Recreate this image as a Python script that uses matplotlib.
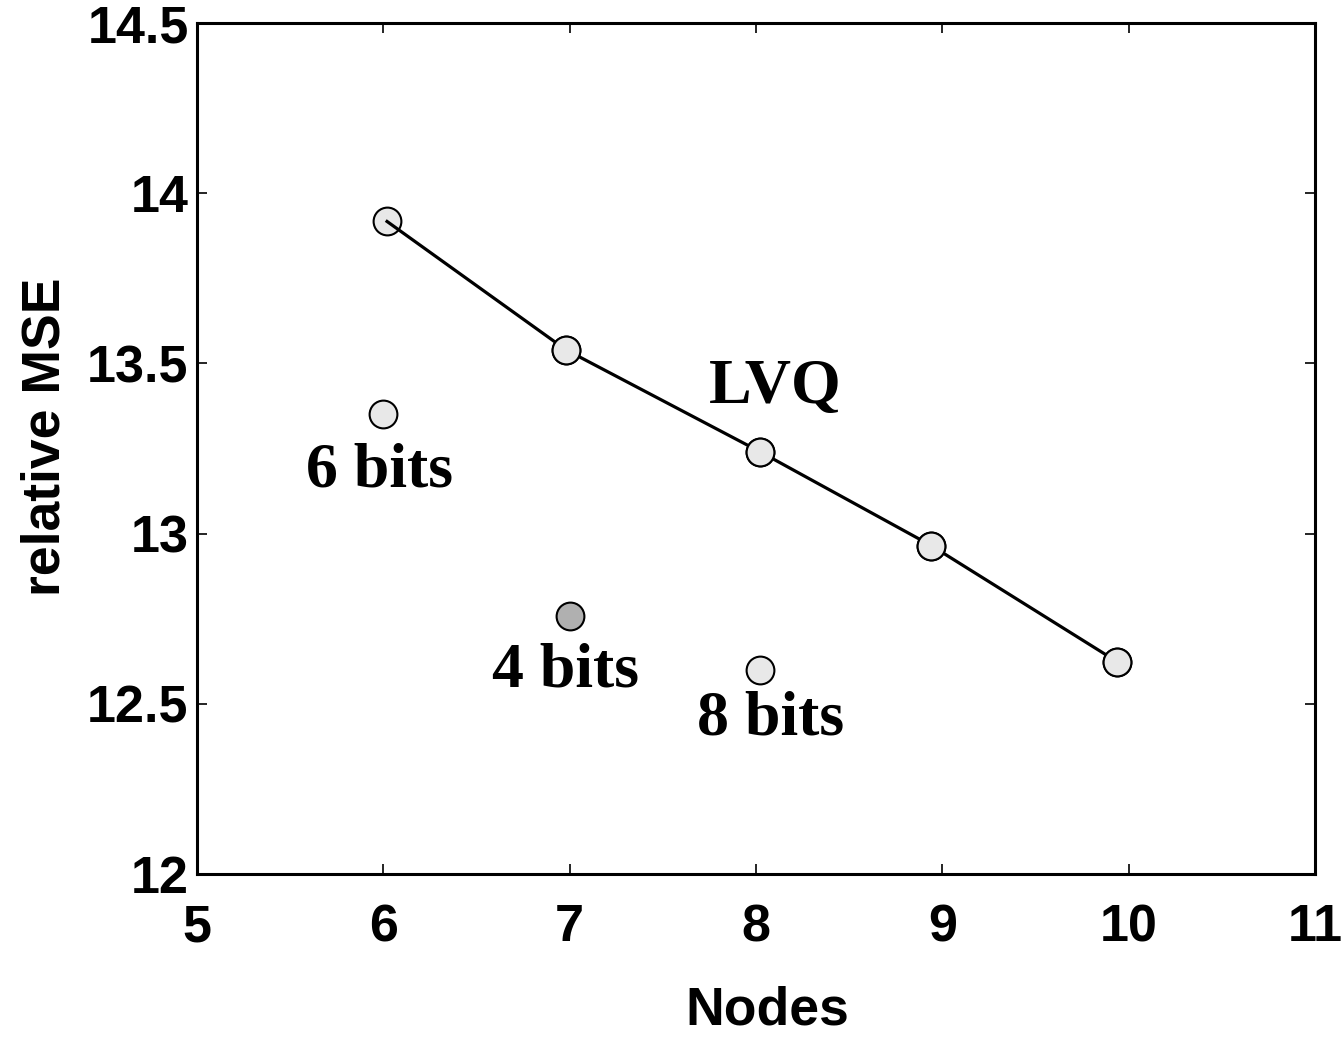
import matplotlib
matplotlib.use("Agg")
import matplotlib.pyplot as plt

# LVQ curve
lvq_nodes = [6.02, 6.98, 8.02, 8.94, 9.94]
lvq_mse = [13.917, 13.54, 13.241, 12.965, 12.623]

# quantised single points
bit_nodes = [6.0, 7.0, 8.02]
bit_mse = [13.352, 12.759, 12.598]
bit_fill = ["#e8e8e8", "#b0b0b0", "#e8e8e8"]

# text labels (x, y of baseline centre)
labels = ["6 bits", "4 bits", "8 bits", "LVQ"]
label_x = [5.98, 6.98, 8.08, 8.105]
label_y = [13.138, 12.551, 12.410, 13.383]

xticks = [5, 6, 7, 8, 9, 10, 11]
yticks = [12, 12.5, 13, 13.5, 14, 14.5]
ytick_labels = ["12", "12.5", "13", "13.5", "14", "14.5"]

fig = plt.figure(figsize=(13.43, 10.37), dpi=100)
ax = fig.add_axes([0.1467, 0.1572, 0.8324, 0.8206])

ax.plot(lvq_nodes, lvq_mse, linestyle="none", marker="o", markersize=20,
        markerfacecolor="#e8e8e8", markeredgecolor="black",
        markeredgewidth=1.5, zorder=2)
ax.plot(lvq_nodes, lvq_mse, color="black", linewidth=2.3, zorder=2.5)
# redraw later markers on top of the line (first one stays under it)
ax.plot(lvq_nodes[1:], lvq_mse[1:], linestyle="none", marker="o",
        markersize=20, markerfacecolor="#e8e8e8", markeredgecolor="black",
        markeredgewidth=1.5, zorder=3)

for xv, yv, fc in zip(bit_nodes, bit_mse, bit_fill):
    ax.plot([xv], [yv], linestyle="none", marker="o", markersize=20,
            markerfacecolor=fc, markeredgecolor="black",
            markeredgewidth=1.5, zorder=3)

for txt, xv, yv in zip(labels, label_x, label_y):
    ax.text(xv, yv, txt, ha="center", va="baseline",
            family="Liberation Serif", fontweight="bold", fontsize=46)

ax.set_xlim(5, 11)
ax.set_ylim(12, 14.5)
ax.set_xticks(xticks)
ax.set_yticks(yticks)
ax.set_yticklabels(ytick_labels)

for lab in ax.get_xticklabels() + ax.get_yticklabels():
    lab.set_family("Liberation Sans")
    lab.set_fontweight("bold")
    lab.set_fontsize(37.5)

ax.tick_params(direction="in", length=7, width=1.2, top=True, right=True)
ax.tick_params(axis="x", pad=21)
ax.tick_params(axis="y", pad=6)
for sp in ax.spines.values():
    sp.set_linewidth(2.2)

ax.set_xlabel("Nodes", family="Liberation Sans", fontweight="bold",
              fontsize=38.5)
ax.set_ylabel("relative MSE", family="Liberation Sans", fontweight="bold",
              fontsize=38.5)
ax.xaxis.set_label_coords(0.51, -0.131)
ax.yaxis.set_label_coords(-0.113, 0.5135)

fig.savefig("out.png", dpi=100)
